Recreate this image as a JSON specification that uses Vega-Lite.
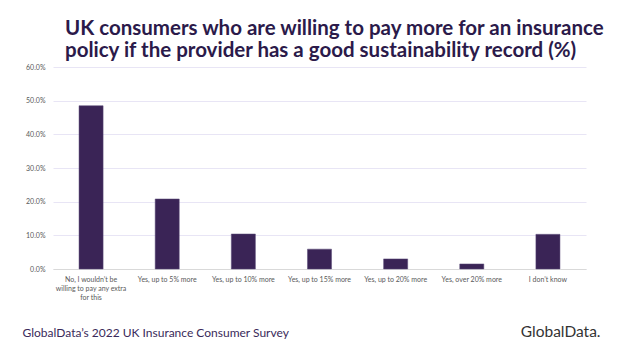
{
  "$schema": "https://vega.github.io/schema/vega-lite/v6.json",
  "width": 533,
  "height": 202,
  "autosize": {"type": "none"},
  "padding": {"left": 53, "top": 67, "right": 38, "bottom": 82},
  "background": "white",
  "config": {"font": "Lato", "view": {"stroke": null}},
  "title": {
    "text": ["UK consumers who are willing to pay more for an insurance", "policy if the provider has a good sustainability record (%)"],
    "anchor": "start",
    "frame": "group",
    "dx": 12,
    "offset": 2,
    "fontSize": 20.5,
    "fontWeight": "bold",
    "lineHeight": 22,
    "color": "#2B1A4A",
    "font": "Lato"
  },
  "data": {
    "values": [
      {"answer": "No, I wouldn’t be willing to pay any extra for this", "pct": 48.5},
      {"answer": "Yes, up to 5% more", "pct": 20.8},
      {"answer": "Yes, up to 10% more", "pct": 10.4},
      {"answer": "Yes, up to 15% more", "pct": 5.9},
      {"answer": "Yes, up to 20% more", "pct": 3.0},
      {"answer": "Yes, over 20% more", "pct": 1.5},
      {"answer": "I don’t know", "pct": 10.3}
    ]
  },
  "mark": {"type": "bar", "color": "#3A2456", "stroke": "#5B4A78", "strokeWidth": 0.5},
  "encoding": {
    "x": {
      "field": "answer",
      "type": "nominal",
      "sort": null,
      "scale": {"paddingInner": 0.684, "paddingOuter": 0.342},
      "axis": {
        "title": "GlobalData.",
        "titleX": 547,
        "titleY": 67,
        "titleAlign": "right",
        "titleBaseline": "alphabetic",
        "titleFontSize": 15.5,
        "titleFontWeight": "normal",
        "titleColor": "#333333",
        "titleAnchor": null,
        "labelAngle": 0,
        "labelFontSize": 7,
        "labelColor": "#595959",
        "labelPadding": 6,
        "labelLimit": 0,
        "labelLineHeight": 9,
        "labelExpr": "datum.value == 'No, I wouldn’t be willing to pay any extra for this' ? ['No, I wouldn’t be', 'willing to pay any extra', 'for this'] : datum.label",
        "ticks": false,
        "domainColor": "#D9D9D9",
        "grid": false
      }
    },
    "y": {
      "field": "pct",
      "type": "quantitative",
      "scale": {"domain": [0, 60]},
      "axis": {
        "title": "GlobalData’s 2022 UK Insurance Consumer Survey",
        "titleAngle": 0,
        "titleX": -31,
        "titleY": 269,
        "titleAlign": "left",
        "titleBaseline": "alphabetic",
        "titleFontSize": 12,
        "titleFontWeight": "normal",
        "titleColor": "#3A2A5A",
        "values": [0, 10, 20, 30, 40, 50, 60],
        "labelExpr": "format(datum.value, '.1f') + '%'",
        "labelFontSize": 7,
        "labelColor": "#595959",
        "labelPadding": 8,
        "ticks": false,
        "domain": false,
        "gridColor": "#E8E5F5",
        "gridWidth": 1
      }
    }
  }
}
